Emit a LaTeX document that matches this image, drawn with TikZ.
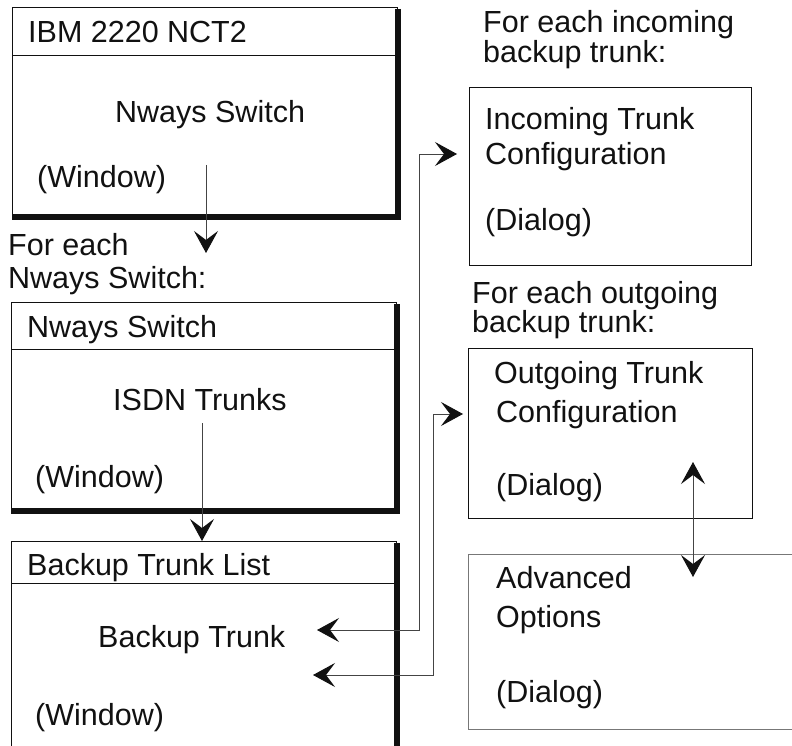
\documentclass[tikz,border=0pt]{standalone}
\usepackage{fontspec}
\setmainfont{Liberation Sans}
\usetikzlibrary{arrows.meta}
\definecolor{NctInk}{HTML}{111111}
\definecolor{NctWire}{HTML}{444444}
\definecolor{NctFaint}{HTML}{777777}

\begin{document}
\begin{tikzpicture}[
  x=1pt,
  y=-1pt,
  font=\fontsize{30.5}{34}\selectfont,
  txt/.style={anchor=base west, inner sep=0pt, text=NctInk},
  winbox/.style={draw=NctInk, line width=0.9pt, anchor=north west, inner sep=0pt, minimum width=385pt},
  dlgbox/.style={draw=NctInk, line width=0.9pt, anchor=north west, inner sep=0pt},
  winshade/.style={draw=NctInk, line width=6pt},
  tip/.tip={Stealth[length=22pt,width=24pt,inset=9pt,color=NctInk]},
  arrow/.style={-tip, line width=0.9pt, draw=NctWire},
  twoway/.style={tip-tip, line width=0.9pt, draw=NctWire}
]
\path[use as bounding box, clip] (0,0) rectangle (792,746);

% windows on the left
\node[winbox, minimum height=209pt] (nct) at (12,7) {};
\node[winbox, minimum height=208pt] (nways) at (11,302) {};
\node[winbox, minimum height=230pt] (trunklist) at (11,541) {};
\foreach \win/\titleh in {nct/48, nways/47, trunklist/42} {
  \draw[NctInk, line width=0.9pt] ([yshift=-\titleh pt]\win.north west) -- ([yshift=-\titleh pt]\win.north east);
  \draw[winshade] ([yshift=-2pt]\win.north east) -- (\win.south east) -- (\win.south west);
}

\node[txt] (nctTitle) at (28,43) {IBM 2220 NCT2};
\node[txt] (nctItem) at (115,123) {Nways Switch};
\node[txt] (nctKind) at (37,188) {(Window)};
\node[txt] (eachNways) at (8,255) {For each};
\node[txt] (eachNwaysB) at (8,288) {Nways Switch:};
\node[txt] (nwaysTitle) at (27,337) {Nways Switch};
\node[txt] (nwaysItem) at (113,410) {ISDN Trunks};
\node[txt] (nwaysKind) at (35,487) {(Window)};
\node[txt] (listTitle) at (27,575) {Backup Trunk List};
\node[txt] (listItem) at (98,647) {Backup Trunk};
\node[txt] (listKind) at (35,725) {(Window)};

% dialogs on the right
\node[dlgbox, minimum width=282pt, minimum height=178pt] (incoming) at (469,87) {};
\node[dlgbox, minimum width=284pt, minimum height=170pt] (outgoing) at (468,348) {};
\node[dlgbox, draw=NctFaint, minimum width=340pt, minimum height=175pt] (advanced) at (468,554) {};

\node[txt] (eachIn) at (483,33) {For each incoming};
\node[txt] (eachInB) at (483,63) {backup trunk:};
\node[txt] (inName) at (485,130) {Incoming Trunk};
\node[txt] (inNameB) at (485,165) {Configuration};
\node[txt] (inKind) at (485,230) {(Dialog)};
\node[txt] (eachOut) at (472,303) {For each outgoing};
\node[txt] (eachOutB) at (472,332) {backup trunk:};
\node[txt] (outName) at (494,383) {Outgoing Trunk};
\node[txt] (outNameB) at (496,422) {Configuration};
\node[txt] (outKind) at (496,495) {(Dialog)};
\node[txt] (advName) at (496,588) {Advanced};
\node[txt] (advNameB) at (496,627) {Options};
\node[txt] (advKind) at (496,702) {(Dialog)};

% connectors
\coordinate (nctFrom) at (206,165);
\coordinate (nctTo) at (206,253);
\coordinate (nwaysFrom) at (202,423);
\coordinate (inFrom) at (317,630);
\coordinate (inTo) at (457,154);
\coordinate (outFrom) at (313,675);
\coordinate (outTo) at (463,414);
\coordinate (advFrom) at (693,462);
\coordinate (advTo) at (693,577);

\draw[arrow] (nctFrom) -- (nctTo);
\draw[arrow] (nwaysFrom) -- (nwaysFrom |- trunklist.north);
\draw[twoway] (inFrom) -- ++(102,0) |- (inTo);
\draw[twoway] (outFrom) -- ++(120,0) |- (outTo);
\draw[twoway] (advFrom) -- (advTo);
\end{tikzpicture}
\end{document}
